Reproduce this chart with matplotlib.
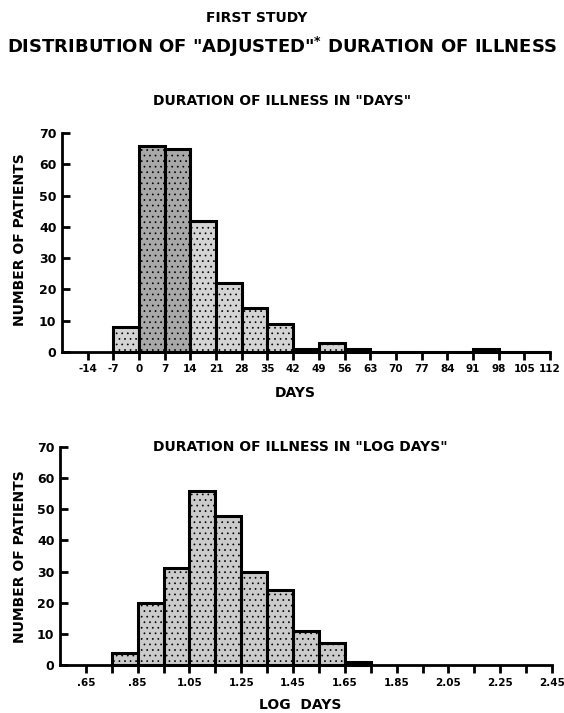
import numpy as np
import matplotlib
matplotlib.use("Agg")
import matplotlib.pyplot as plt

# histogram in days: bin left edges (width 7) and counts
day_edges = [-7, 0, 7, 14, 21, 28, 35, 42, 49, 56, 63, 70, 77, 84, 91, 98, 105]
day_counts = [8, 66, 65, 42, 22, 14, 9, 1, 3, 1, 0, 0, 0, 0, 1, 0, 0]
day_ticks = list(range(-14, 113, 7))

# histogram in log days: bin left edges (width 0.1) and counts
log_edges = [0.75, 0.85, 0.95, 1.05, 1.15, 1.25, 1.35, 1.45, 1.55, 1.65]
log_counts = [4, 20, 31, 56, 48, 30, 24, 11, 7, 1]
log_ticks = [0.65, 0.75, 0.85, 0.95, 1.05, 1.15, 1.25, 1.35, 1.45, 1.55,
             1.65, 1.75, 1.85, 1.95, 2.05, 2.15, 2.25, 2.35, 2.45]
log_labels = [".65", "", ".85", "", "1.05", "", "1.25", "", "1.45", "",
              "1.65", "", "1.85", "", "2.05", "", "2.25", "", "2.45"]

plt.rcParams["font.family"] = ["DejaVu Sans"]
plt.rcParams["font.weight"] = "bold"
plt.rcParams["hatch.linewidth"] = 0.5

fig = plt.figure(figsize=(5.64, 7.13), dpi=100)

def style(ax):
    for s in ["top", "right"]:
        ax.spines[s].set_visible(False)
    for s in ["left", "bottom"]:
        ax.spines[s].set_linewidth(2.0)
    ax.tick_params(axis="y", direction="in", length=6, width=2, labelsize=9, pad=4)
    ax.tick_params(axis="x", direction="out", length=6, width=2, labelsize=7.5, pad=3)
    ax.set_ylim(0, 70)
    ax.set_yticks(range(0, 71, 10))
    for lab in ax.get_xticklabels() + ax.get_yticklabels():
        lab.set_fontweight("bold")

# top: days
ax1 = fig.add_axes([62 / 564, 1 - 352 / 713, 488 / 564, 219 / 713])
fills = ["#a8a8a8" if c > 60 else "#d4d4d4" for c in day_counts]
ax1.bar(day_edges, day_counts, width=7, align="edge", color=fills,
        edgecolor="black", linewidth=2.2, hatch="...", clip_on=False)
ax1.set_xlim(-21, 112)
ax1.set_xticks(day_ticks)
ax1.set_xticklabels([str(t) for t in day_ticks])
style(ax1)

# bottom: log days
ax2 = fig.add_axes([60 / 564, 1 - 665 / 713, 492 / 564, 218 / 713])
ax2.bar(log_edges, log_counts, width=0.1, align="edge", color="#cbcbcb",
        edgecolor="black", linewidth=2.2, hatch="...", clip_on=False)
ax2.set_xlim(0.55, 2.45)
ax2.set_xticks(log_ticks)
ax2.set_xticklabels(log_labels)
style(ax2)

# titles and axis labels
fig.text(257 / 564, 1 - 18 / 713, "FIRST STUDY", ha="center", va="center",
         fontsize=10, fontweight="bold")
fig.text(282 / 564, 1 - 47 / 713, 'DISTRIBUTION OF "ADJUSTED"$^{\\bf{*}}$ DURATION OF ILLNESS',
         ha="center", va="center", fontsize=13, fontweight="bold")
fig.text(282 / 564, 1 - 101 / 713, 'DURATION OF ILLNESS IN "DAYS"', ha="center",
         va="center", fontsize=10, fontweight="bold")
fig.text(300 / 564, 1 - 447 / 713, 'DURATION OF ILLNESS IN "LOG DAYS"', ha="center",
         va="center", fontsize=10, fontweight="bold")
fig.text(295 / 564, 1 - 393 / 713, "DAYS", ha="center", va="center",
         fontsize=10, fontweight="bold")
fig.text(300 / 564, 1 - 705 / 713, "LOG  DAYS", ha="center", va="center",
         fontsize=10, fontweight="bold")
fig.text(20 / 564, 1 - 240 / 713, "NUMBER OF PATIENTS", ha="center", va="center",
         rotation=90, fontsize=10, fontweight="bold")
fig.text(20 / 564, 1 - 557 / 713, "NUMBER OF PATIENTS", ha="center", va="center",
         rotation=90, fontsize=10, fontweight="bold")

fig.savefig("out.png", dpi=100)
